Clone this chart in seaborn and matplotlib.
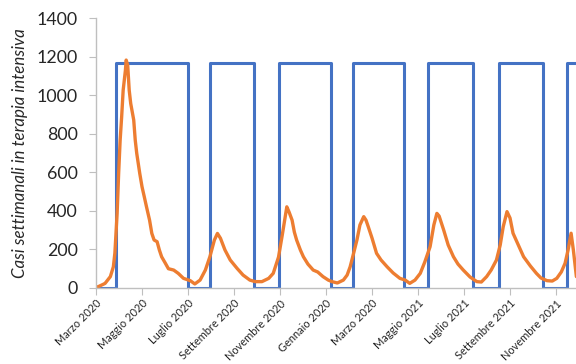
import numpy as np
import pandas as pd
import matplotlib
matplotlib.use("Agg")
import matplotlib.pyplot as plt
import matplotlib.transforms as mtransforms
import seaborn as sns

# ---- data ----
tick_labels = ["Marzo 2020", "Maggio 2020", "Luglio 2020", "Settembre 2020",
               "Novembre 2020", "Gennaio 2020", "Marzo 2020", "Maggio 2021",
               "Luglio 2021", "Settembre 2021", "Novembre 2021"]

# orange series: day offset from start, weekly ICU cases
case_days = [0, 3, 10, 12, 19, 23, 25, 28, 30, 32, 34, 36, 39, 40, 42, 44, 46, 50,
             52, 54, 58, 61, 64, 67, 71, 74, 77, 81, 84, 87, 92, 96, 103, 109, 116,
             125, 131, 138, 145, 151, 157, 161, 165, 171, 178, 187, 195, 204, 211,
             220, 229, 235, 242, 247, 253, 256, 260, 263, 266, 271, 275, 281, 288,
             294, 301, 308, 313, 320, 328, 333, 337, 341, 346, 350, 355, 358, 361,
             366, 372, 378, 386, 394, 403, 410, 416, 423, 430, 436, 443, 448, 452,
             455, 461, 467, 474, 480, 487, 496, 505, 511, 518, 524, 531, 536, 540,
             545, 549, 553, 560, 567, 576, 584, 590, 598, 605, 611, 617, 622, 626,
             630, 633, 637]
case_vals = [5, 7, 20, 24, 59, 110, 181, 388, 594, 767, 888, 1026, 1130, 1182, 1156,
             1026, 957, 871, 767, 698, 594, 525, 473, 420, 352, 283, 249, 240, 197,
             162, 128, 100, 93, 76, 50, 38, 21, 41, 93, 162, 249, 283, 258, 197, 145,
             102, 67, 41, 33, 33, 50, 76, 160, 275, 421, 394, 352, 290, 249, 197, 162,
             124, 93, 83, 59, 41, 33, 26, 41, 67, 110, 171, 249, 327, 370, 352, 318,
             259, 180, 145, 110, 78, 50, 41, 24, 41, 76, 135, 214, 327, 387, 373, 301,
             223, 162, 124, 93, 57, 33, 31, 59, 93, 145, 223, 318, 396, 363, 284, 223,
             162, 114, 76, 52, 38, 36, 50, 83, 128, 197, 284, 197, 59]

# blue series: restriction periods (start/end day) and level
period_start = [27, 151, 242, 341, 440, 534, 624]
period_end = [122, 210, 312, 408, 500, 593, 680]
period_level = 1165

# ---- build step line ----
sx, sy = [0], [0]
for s, e in zip(period_start, period_end):
    sx += [s, s, e, e]
    sy += [0, period_level, period_level, 0]
steps = pd.DataFrame({"x": sx, "y": sy})
cases = pd.DataFrame({"x": case_days, "y": case_vals})

sns.set_style("white")
plt.rcParams["font.family"] = ["Lato", "DejaVu Sans"]

fig = plt.figure(figsize=(5.76, 3.64), dpi=100)
ax = fig.add_axes([0.1667, 0.2088, 0.8333, 0.7417])

sns.lineplot(data=steps, x="x", y="y", estimator=None, sort=False,
             color="#4472C4", linewidth=2.2, ax=ax)
sns.lineplot(data=cases, x="x", y="y", estimator=None, sort=False,
             color="#ED7D31", linewidth=2.4, ax=ax)

ax.set_xlim(0, 636.5)
ax.set_ylim(0, 1400)
ax.set_yticks(np.arange(0, 1401, 200))
ax.set_xticks(np.arange(len(tick_labels)) * 61.0)
ax.set_xticklabels(tick_labels, rotation=45, ha="right", rotation_mode="anchor",
                   fontsize=7.9)
offset = mtransforms.ScaledTranslation(6 / 72, 0, fig.dpi_scale_trans)
for lab in ax.get_xticklabels():
    lab.set_transform(lab.get_transform() + offset)
ax.tick_params(axis="y", labelsize=12.8, length=5, color="#BFBFBF", pad=8)
ax.tick_params(axis="x", length=5, color="#BFBFBF", pad=2)
ax.tick_params(left=True, bottom=True)
ax.set_xlabel("")
ax.set_ylabel("Casi settimanali in terapia intensiva", fontsize=12.2,
              style="italic", labelpad=6)
for sp in ["top", "right"]:
    ax.spines[sp].set_visible(False)
for sp in ["left", "bottom"]:
    ax.spines[sp].set_color("#BFBFBF")
    ax.spines[sp].set_linewidth(1)

fig.savefig("out.png", dpi=100)
